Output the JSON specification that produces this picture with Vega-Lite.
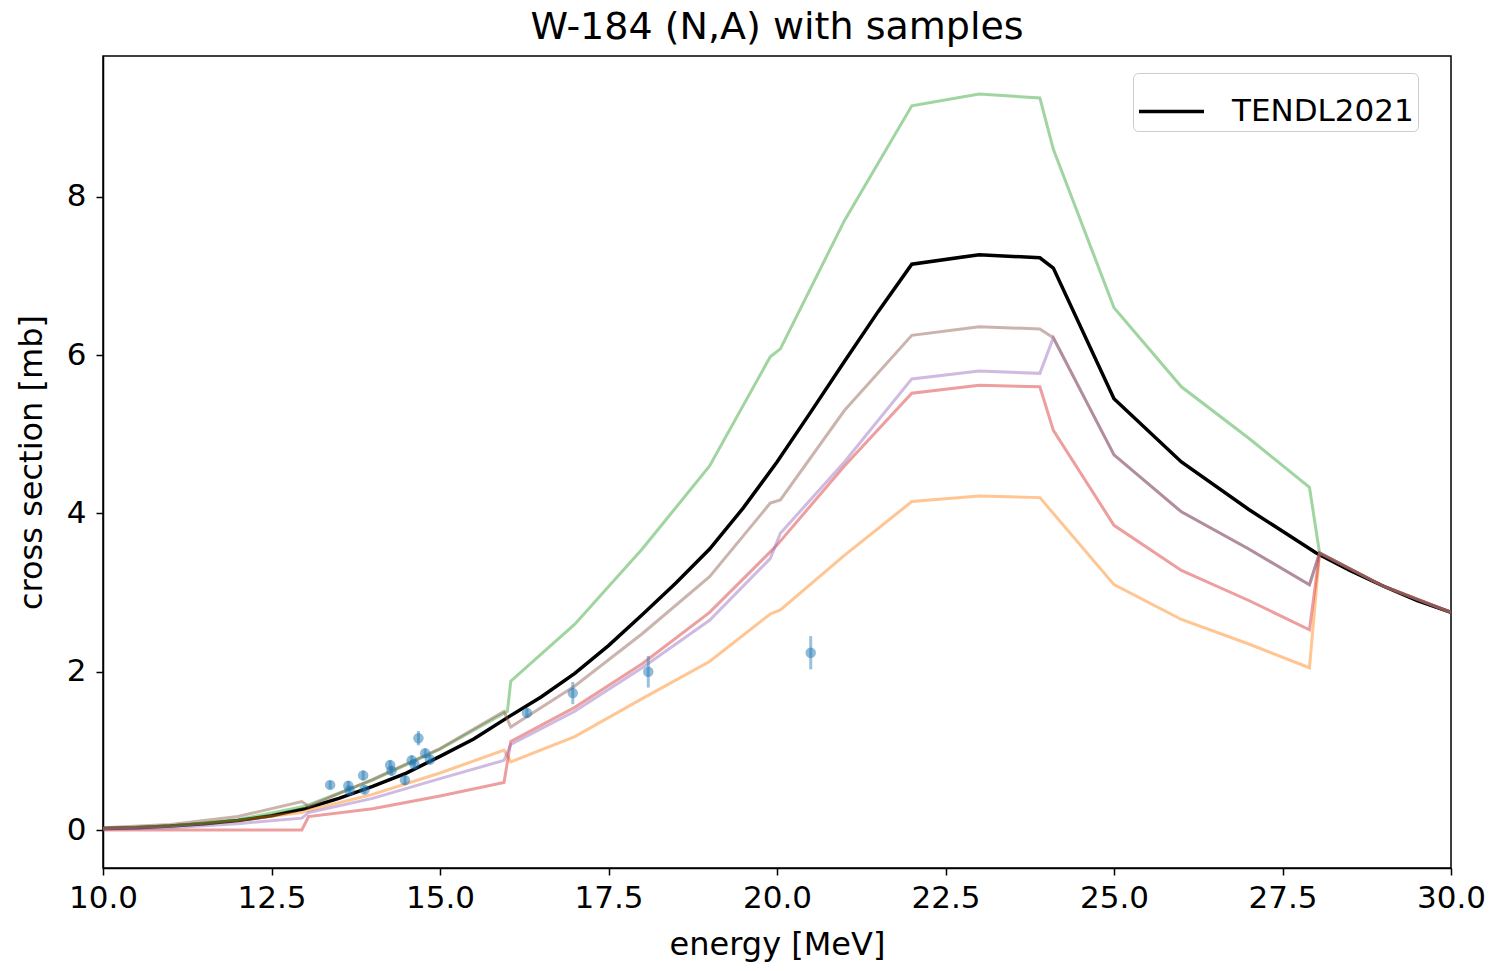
{
  "$schema": "https://vega.github.io/schema/vega-lite/v6.json",
  "width": 1348,
  "height": 812,
  "autosize": {"type": "none"},
  "padding": {"left": 103, "top": 56, "right": 38, "bottom": 103},
  "background": "white",
  "title": {"text": "W-184 (N,A) with samples", "fontSize": 38, "font": "DejaVu Sans", "fontWeight": "normal", "color": "black", "offset": 9, "anchor": "middle"},
  "config": {
    "font": "DejaVu Sans",
    "view": {"stroke": "black", "strokeWidth": 1.5},
    "axis": {"domainColor": "black", "domainWidth": 1.5, "tickColor": "black", "tickWidth": 1.5, "tickSize": 7, "labelFontSize": 31, "titleFontSize": 32, "labelColor": "black", "titleColor": "black", "titleFontWeight": "normal", "grid": false, "labelPadding": 8, "labelFlush": false}
  },
  "datasets": {
    "tendl": [
      {"E": 10, "xs": 0.02}, {"E": 10.5, "xs": 0.03}, {"E": 11, "xs": 0.05}, {"E": 11.5, "xs": 0.08}, {"E": 12, "xs": 0.12}, {"E": 12.5, "xs": 0.18}, {"E": 13, "xs": 0.27}, {"E": 13.5, "xs": 0.4}, {"E": 14, "xs": 0.55}, {"E": 14.5, "xs": 0.72}, {"E": 15, "xs": 0.93}, {"E": 15.5, "xs": 1.15}, {"E": 16, "xs": 1.42}, {"E": 16.5, "xs": 1.68}, {"E": 17, "xs": 1.98}, {"E": 17.5, "xs": 2.33}, {"E": 18, "xs": 2.72}, {"E": 18.5, "xs": 3.12}, {"E": 19, "xs": 3.55}, {"E": 19.5, "xs": 4.07}, {"E": 20, "xs": 4.65}, {"E": 20.5, "xs": 5.28}, {"E": 21, "xs": 5.92}, {"E": 21.5, "xs": 6.55}, {"E": 22, "xs": 7.15}, {"E": 23, "xs": 7.27}, {"E": 23.9, "xs": 7.23}, {"E": 24.1, "xs": 7.1}, {"E": 25, "xs": 5.45}, {"E": 26, "xs": 4.65}, {"E": 27, "xs": 4.05}, {"E": 28, "xs": 3.5}, {"E": 28.5, "xs": 3.28}, {"E": 29, "xs": 3.08}, {"E": 29.5, "xs": 2.9}, {"E": 30, "xs": 2.75}
    ],
    "samples": [
      {"s": "orange", "E": 10, "xs": 0.02}, {"s": "orange", "E": 11, "xs": 0.05}, {"s": "orange", "E": 12, "xs": 0.12}, {"s": "orange", "E": 12.95, "xs": 0.22}, {"s": "orange", "E": 13.05, "xs": 0.25}, {"s": "orange", "E": 14, "xs": 0.45}, {"s": "orange", "E": 15, "xs": 0.72}, {"s": "orange", "E": 15.95, "xs": 1.01}, {"s": "orange", "E": 16.05, "xs": 0.86}, {"s": "orange", "E": 17, "xs": 1.18}, {"s": "orange", "E": 18, "xs": 1.66}, {"s": "orange", "E": 19, "xs": 2.13}, {"s": "orange", "E": 19.9, "xs": 2.73}, {"s": "orange", "E": 20.05, "xs": 2.78}, {"s": "orange", "E": 21, "xs": 3.47}, {"s": "orange", "E": 22, "xs": 4.15}, {"s": "orange", "E": 23, "xs": 4.22}, {"s": "orange", "E": 23.9, "xs": 4.2}, {"s": "orange", "E": 25, "xs": 3.1}, {"s": "orange", "E": 26, "xs": 2.66}, {"s": "orange", "E": 27, "xs": 2.35}, {"s": "orange", "E": 27.9, "xs": 2.05}, {"s": "orange", "E": 28.05, "xs": 3.5}, {"s": "orange", "E": 29, "xs": 3.08}, {"s": "orange", "E": 30, "xs": 2.75},
      {"s": "green", "E": 10, "xs": 0.02}, {"s": "green", "E": 11, "xs": 0.05}, {"s": "green", "E": 12, "xs": 0.13}, {"s": "green", "E": 13, "xs": 0.3}, {"s": "green", "E": 14, "xs": 0.63}, {"s": "green", "E": 15, "xs": 1.02}, {"s": "green", "E": 16, "xs": 1.5}, {"s": "green", "E": 16.05, "xs": 1.88}, {"s": "green", "E": 17, "xs": 2.6}, {"s": "green", "E": 18, "xs": 3.55}, {"s": "green", "E": 19, "xs": 4.6}, {"s": "green", "E": 19.9, "xs": 5.98}, {"s": "green", "E": 20.05, "xs": 6.08}, {"s": "green", "E": 21, "xs": 7.7}, {"s": "green", "E": 22, "xs": 9.15}, {"s": "green", "E": 23, "xs": 9.3}, {"s": "green", "E": 23.9, "xs": 9.25}, {"s": "green", "E": 24.1, "xs": 8.6}, {"s": "green", "E": 25, "xs": 6.6}, {"s": "green", "E": 26, "xs": 5.6}, {"s": "green", "E": 27, "xs": 4.95}, {"s": "green", "E": 27.9, "xs": 4.33}, {"s": "green", "E": 28.05, "xs": 3.5}, {"s": "green", "E": 29, "xs": 3.08}, {"s": "green", "E": 30, "xs": 2.75},
      {"s": "red", "E": 10, "xs": 0.0}, {"s": "red", "E": 12.95, "xs": 0.0}, {"s": "red", "E": 13.05, "xs": 0.17}, {"s": "red", "E": 14, "xs": 0.27}, {"s": "red", "E": 15, "xs": 0.43}, {"s": "red", "E": 15.95, "xs": 0.6}, {"s": "red", "E": 16.05, "xs": 1.12}, {"s": "red", "E": 17, "xs": 1.55}, {"s": "red", "E": 18, "xs": 2.1}, {"s": "red", "E": 19, "xs": 2.75}, {"s": "red", "E": 20, "xs": 3.6}, {"s": "red", "E": 21, "xs": 4.6}, {"s": "red", "E": 22, "xs": 5.52}, {"s": "red", "E": 23, "xs": 5.62}, {"s": "red", "E": 23.9, "xs": 5.6}, {"s": "red", "E": 24.1, "xs": 5.05}, {"s": "red", "E": 25, "xs": 3.85}, {"s": "red", "E": 26, "xs": 3.28}, {"s": "red", "E": 27, "xs": 2.9}, {"s": "red", "E": 27.9, "xs": 2.53}, {"s": "red", "E": 28.05, "xs": 3.5}, {"s": "red", "E": 29, "xs": 3.08}, {"s": "red", "E": 30, "xs": 2.75},
      {"s": "purple", "E": 10, "xs": 0.01}, {"s": "purple", "E": 11, "xs": 0.03}, {"s": "purple", "E": 12, "xs": 0.08}, {"s": "purple", "E": 12.95, "xs": 0.15}, {"s": "purple", "E": 13.05, "xs": 0.22}, {"s": "purple", "E": 14, "xs": 0.4}, {"s": "purple", "E": 15, "xs": 0.65}, {"s": "purple", "E": 15.95, "xs": 0.88}, {"s": "purple", "E": 16.05, "xs": 1.08}, {"s": "purple", "E": 17, "xs": 1.5}, {"s": "purple", "E": 18, "xs": 2.05}, {"s": "purple", "E": 19, "xs": 2.65}, {"s": "purple", "E": 19.9, "xs": 3.43}, {"s": "purple", "E": 20.05, "xs": 3.75}, {"s": "purple", "E": 21, "xs": 4.65}, {"s": "purple", "E": 22, "xs": 5.7}, {"s": "purple", "E": 23, "xs": 5.8}, {"s": "purple", "E": 23.9, "xs": 5.77}, {"s": "purple", "E": 24.1, "xs": 6.22}, {"s": "purple", "E": 25, "xs": 4.74}, {"s": "purple", "E": 26, "xs": 4.02}, {"s": "purple", "E": 27, "xs": 3.55}, {"s": "purple", "E": 27.9, "xs": 3.1}, {"s": "purple", "E": 28.05, "xs": 3.5}, {"s": "purple", "E": 29, "xs": 3.08}, {"s": "purple", "E": 30, "xs": 2.75},
      {"s": "brown", "E": 10, "xs": 0.03}, {"s": "brown", "E": 11, "xs": 0.07}, {"s": "brown", "E": 12, "xs": 0.17}, {"s": "brown", "E": 12.95, "xs": 0.36}, {"s": "brown", "E": 13.05, "xs": 0.3}, {"s": "brown", "E": 14, "xs": 0.64}, {"s": "brown", "E": 15, "xs": 1.03}, {"s": "brown", "E": 15.95, "xs": 1.5}, {"s": "brown", "E": 16.05, "xs": 1.3}, {"s": "brown", "E": 17, "xs": 1.82}, {"s": "brown", "E": 18, "xs": 2.48}, {"s": "brown", "E": 19, "xs": 3.2}, {"s": "brown", "E": 19.9, "xs": 4.13}, {"s": "brown", "E": 20.05, "xs": 4.17}, {"s": "brown", "E": 21, "xs": 5.3}, {"s": "brown", "E": 22, "xs": 6.25}, {"s": "brown", "E": 23, "xs": 6.36}, {"s": "brown", "E": 23.9, "xs": 6.33}, {"s": "brown", "E": 24.1, "xs": 6.22}, {"s": "brown", "E": 25, "xs": 4.74}, {"s": "brown", "E": 26, "xs": 4.02}, {"s": "brown", "E": 27, "xs": 3.55}, {"s": "brown", "E": 27.9, "xs": 3.1}, {"s": "brown", "E": 28.05, "xs": 3.5}, {"s": "brown", "E": 29, "xs": 3.08}, {"s": "brown", "E": 30, "xs": 2.75}
    ],
    "exp": [
      {"E": 13.37, "xs": 0.57, "lo": 0.52, "hi": 0.62},
      {"E": 13.64, "xs": 0.56, "lo": 0.5, "hi": 0.62},
      {"E": 13.66, "xs": 0.5, "lo": 0.45, "hi": 0.55},
      {"E": 13.86, "xs": 0.69, "lo": 0.63, "hi": 0.75},
      {"E": 13.88, "xs": 0.51, "lo": 0.46, "hi": 0.56},
      {"E": 14.26, "xs": 0.82, "lo": 0.76, "hi": 0.88},
      {"E": 14.28, "xs": 0.75, "lo": 0.69, "hi": 0.81},
      {"E": 14.48, "xs": 0.63, "lo": 0.57, "hi": 0.69},
      {"E": 14.58, "xs": 0.88, "lo": 0.82, "hi": 0.94},
      {"E": 14.62, "xs": 0.83, "lo": 0.78, "hi": 0.88},
      {"E": 14.68, "xs": 1.16, "lo": 1.07, "hi": 1.25},
      {"E": 14.78, "xs": 0.97, "lo": 0.91, "hi": 1.03},
      {"E": 14.85, "xs": 0.89, "lo": 0.83, "hi": 0.95},
      {"E": 16.29, "xs": 1.48, "lo": 1.42, "hi": 1.54},
      {"E": 16.97, "xs": 1.73, "lo": 1.59, "hi": 1.87},
      {"E": 18.09, "xs": 2.0, "lo": 1.8, "hi": 2.2},
      {"E": 20.5, "xs": 2.24, "lo": 2.03, "hi": 2.45}
    ]
  },
  "encoding": {
    "x": {"field": "E", "type": "quantitative", "scale": {"domain": [10, 30], "nice": false, "zero": false}, "axis": {"values": [10, 12.5, 15, 17.5, 20, 22.5, 25, 27.5, 30], "format": ".1f", "title": "energy [MeV]", "titlePadding": 16, "labelPadding": 8}},
    "y": {"field": "xs", "type": "quantitative", "scale": {"domain": [-0.48, 9.78], "nice": false, "zero": false}, "axis": {"values": [0, 2, 4, 6, 8], "title": "cross section [mb]", "titlePadding": 18, "labelPadding": 10}}
  },
  "layer": [
    {
      "data": {"name": "tendl"},
      "mark": {"type": "line", "strokeWidth": 3.5, "clip": true},
      "encoding": {
        "color": {"datum": "TENDL2021", "type": "nominal", "scale": {"range": ["black"]}, "legend": {"title": null, "orient": "none", "legendX": 1030, "legendY": 17, "symbolType": "stroke", "symbolSize": 4225, "symbolStrokeWidth": 3.5, "symbolStrokeColor": "black", "labelFontSize": 31, "labelColor": "black", "labelOffset": 26, "labelLimit": 0, "padding": 4, "strokeColor": "#cccccc", "fillColor": "white", "cornerRadius": 5}}
      }
    },
    {
      "data": {"name": "samples"},
      "mark": {"type": "line", "strokeWidth": 3, "opacity": 0.45, "clip": true},
      "encoding": {
        "detail": {"field": "s"},
        "stroke": {"field": "s", "type": "nominal", "scale": {"domain": ["orange", "green", "red", "purple", "brown"], "range": ["#ff7f0e", "#2ca02c", "#d62728", "#9467bd", "#8c564b"]}, "legend": null},
        "order": {"value": 0}
      }
    },
    {
      "data": {"name": "exp"},
      "mark": {"type": "rule", "strokeWidth": 3, "color": "#1f77b4", "opacity": 0.45},
      "encoding": {"y": {"field": "lo", "type": "quantitative"}, "y2": {"field": "hi"}}
    },
    {
      "data": {"name": "exp"},
      "mark": {"type": "point", "filled": true, "size": 110, "color": "#1f77b4", "opacity": 0.5, "shape": "circle"}
    }
  ]
}
